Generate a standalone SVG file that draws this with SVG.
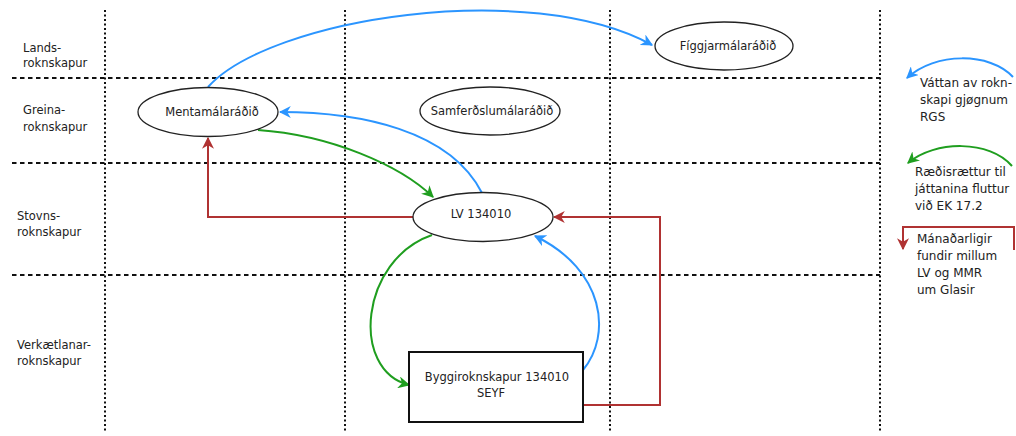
<svg xmlns="http://www.w3.org/2000/svg" width="1016" height="436" viewBox="0 0 1016 436">
<defs>
<style>
text{font-family:"DejaVu Sans","Liberation Sans",sans-serif;font-size:11.5px;fill:#222}
.lbl{font-size:11.5px}
.leg{font-size:12px}
.vgrid{stroke:#111;stroke-width:2;stroke-dasharray:2 2.5;fill:none}
.hgrid{stroke:#111;stroke-width:2;stroke-dasharray:4.5 3.5;fill:none}
.node{fill:#fff;stroke:#222;stroke-width:1.3}
.box{fill:#fff;stroke:#111;stroke-width:2}
.blue{stroke:#2b95ff;stroke-width:2;fill:none}
.green{stroke:#1f9e1f;stroke-width:2;fill:none}
.red{stroke:#b03232;stroke-width:2;fill:none}
</style>
<marker id="ab" viewBox="0 0 10 10" refX="9" refY="5" markerWidth="12" markerHeight="12" markerUnits="userSpaceOnUse" orient="auto"><path d="M0,0 L10,5 L0,10 L3,5 z" fill="#2b95ff"/></marker>
<marker id="ag" viewBox="0 0 10 10" refX="9" refY="5" markerWidth="12" markerHeight="12" markerUnits="userSpaceOnUse" orient="auto"><path d="M0,0 L10,5 L0,10 L3,5 z" fill="#1f9e1f"/></marker>
<marker id="ar" viewBox="0 0 10 10" refX="9" refY="5" markerWidth="12" markerHeight="12" markerUnits="userSpaceOnUse" orient="auto"><path d="M0,0 L10,5 L0,10 L3,5 z" fill="#b03232"/></marker>
</defs>
<rect width="1016" height="436" fill="#fff"/>
<g id="grid">
<line class="vgrid" x1="105" y1="10" x2="105" y2="433"/>
<line class="vgrid" x1="345" y1="10" x2="345" y2="433"/>
<line class="vgrid" x1="610" y1="10" x2="610" y2="433"/>
<line class="vgrid" x1="880" y1="10" x2="880" y2="433"/>
<line class="hgrid" x1="12" y1="78" x2="880" y2="78"/>
<line class="hgrid" x1="12" y1="163" x2="880" y2="163"/>
<line class="hgrid" x1="12" y1="275" x2="880" y2="275"/>
</g>
<g id="row-labels">
<text class="lbl" x="23" y="52">Lands-</text>
<text class="lbl" x="23" y="67">roknskapur</text>
<text class="lbl" x="23" y="114">Greina-</text>
<text class="lbl" x="23" y="131">roknskapur</text>
<text class="lbl" x="17" y="220">Stovns-</text>
<text class="lbl" x="17" y="236">roknskapur</text>
<text class="lbl" x="17" y="349">Verkætlanar-</text>
<text class="lbl" x="17" y="365">roknskapur</text>
</g>
<g id="connectors">
<path class="blue" d="M208,87 C270,18 530,-22 652,45" marker-end="url(#ab)"/>
<path class="blue" d="M482,193 C450,130 360,112 280,112" marker-end="url(#ab)"/>
<path class="green" d="M258,130 C330,135 400,165 433,197" marker-end="url(#ag)"/>
<path class="red" d="M413,217 L208,217 L208,138" marker-end="url(#ar)"/>
<path class="red" d="M583,405 L660,405 L660,217 L554,217" marker-end="url(#ar)"/>
<path class="green" d="M432,235 C360,260 350,370 409,385" marker-end="url(#ag)"/>
<path class="blue" d="M583,370 C612,335 605,270 535,236" marker-end="url(#ab)"/>
</g>
<g id="n-figgjar">
<ellipse class="node" cx="724" cy="46" rx="69" ry="24"/>
<text x="728" y="50" text-anchor="middle">Fíggjarmálaráðið</text>
</g>
<g id="n-menta">
<ellipse class="node" cx="208" cy="112" rx="70" ry="24.5"/>
<text x="212" y="116" text-anchor="middle">Mentamálaráðið</text>
</g>
<g id="n-samferdsla">
<ellipse class="node" cx="490" cy="111" rx="70" ry="24"/>
<text x="492" y="115" text-anchor="middle">Samferðslumálaráðið</text>
</g>
<g id="n-lv">
<ellipse class="node" cx="483" cy="217" rx="70" ry="24.5"/>
<text x="481" y="218" text-anchor="middle">LV 134010</text>
</g>
<g id="n-byggi">
<rect class="box" x="409" y="352" width="174" height="70"/>
<text x="497" y="381" text-anchor="middle">Byggiroknskapur 134010</text>
<text x="491" y="397" text-anchor="middle">SEYF</text>
</g>
<g id="legend">
<path class="blue" d="M1013,77 C990,52 935,52 907,78" marker-end="url(#ab)"/>
<text class="leg" x="920" y="87">Váttan av rokn-</text>
<text class="leg" x="920" y="104">skapi gjøgnum</text>
<text class="leg" x="920" y="121">RGS</text>
<path class="green" d="M1012,166 C990,140 935,140 908,163" marker-end="url(#ag)"/>
<text class="leg" x="915" y="176">Ræðisrættur til</text>
<text class="leg" x="915" y="193">játtanina fluttur</text>
<text class="leg" x="915" y="210">við EK 17.2</text>
<path class="red" d="M1014,250 L1014,227 L903,227 L903,249" marker-end="url(#ar)"/>
<text class="leg" x="917" y="243">Mánaðarligir</text>
<text class="leg" x="917" y="260">fundir millum</text>
<text class="leg" x="917" y="277">LV og MMR</text>
<text class="leg" x="917" y="294">um Glasir</text>
</g>
</svg>
